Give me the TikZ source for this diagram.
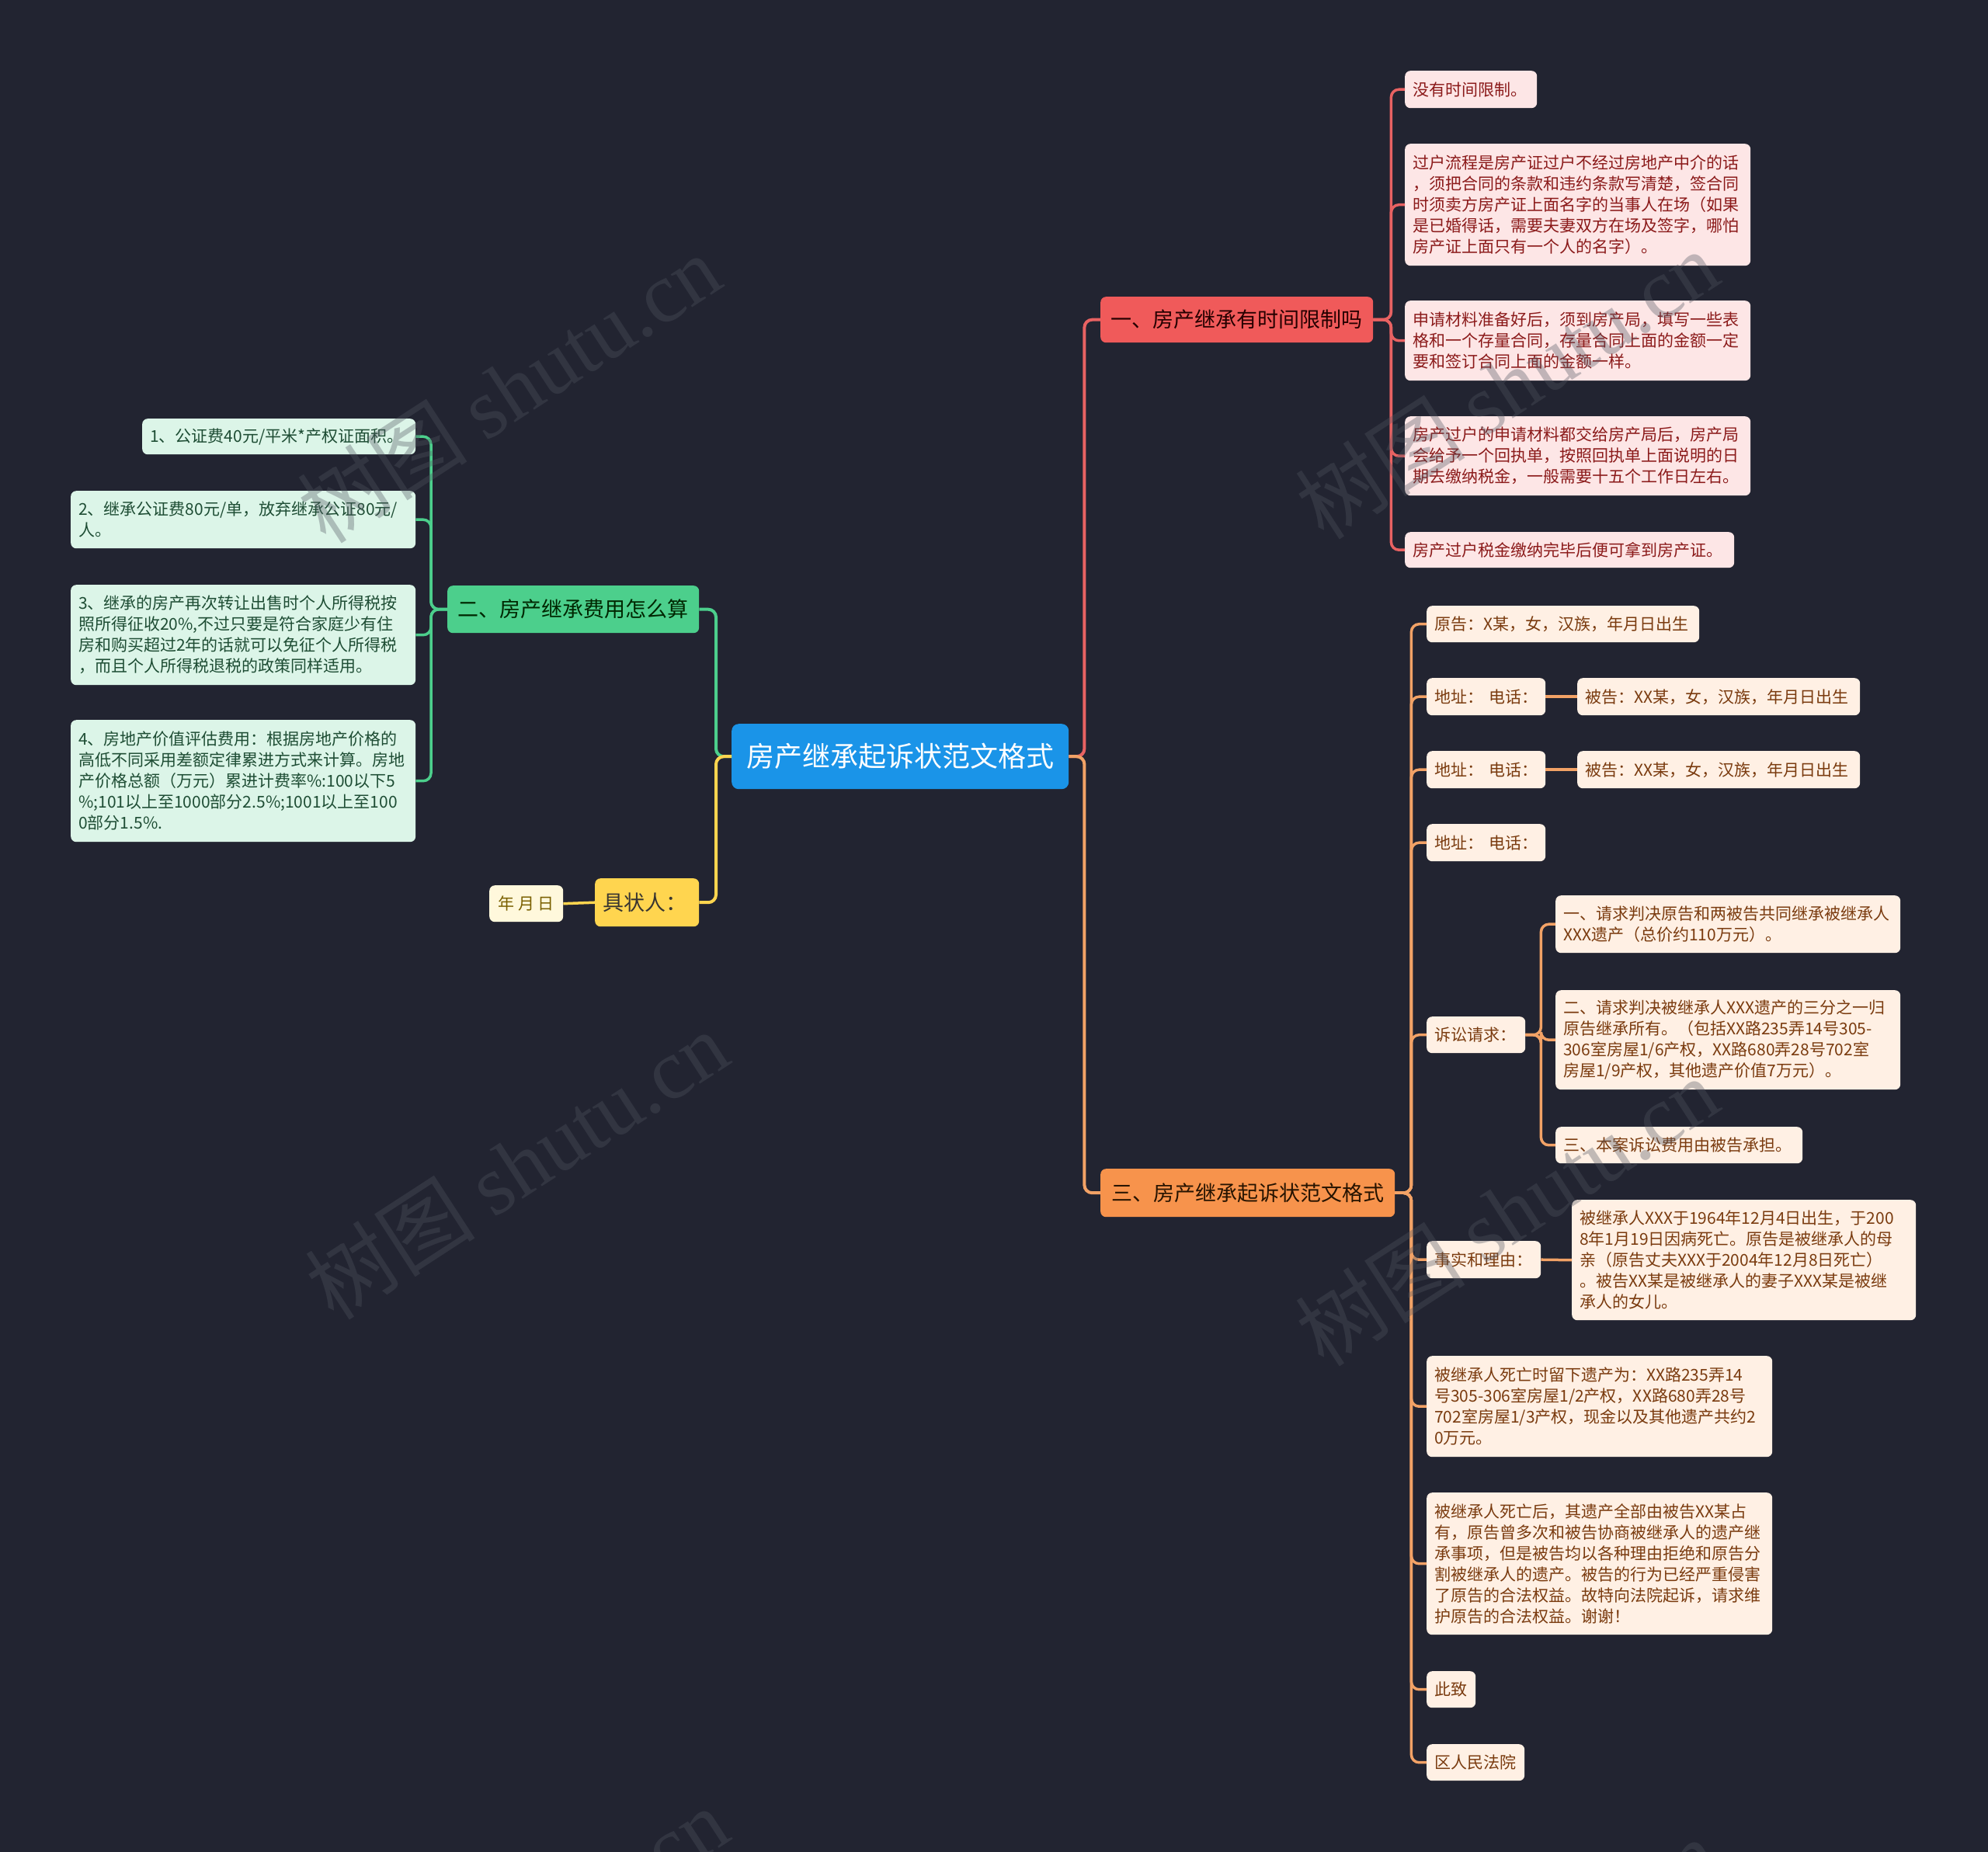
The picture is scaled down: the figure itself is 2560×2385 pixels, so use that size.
\documentclass[tikz,border=0pt]{standalone}
\usepackage{fontspec}
\setmainfont{Noto Sans CJK SC}
\newfontfamily\wmlatin{Liberation Serif}
\definecolor{bg}{HTML}{222431}
\definecolor{rootc}{HTML}{1A94E8}
\definecolor{redc}{HTML}{F05A5A}
\definecolor{redl}{HTML}{E86262}
\definecolor{redfill}{HTML}{FDE6E6}
\definecolor{redtext}{HTML}{8B1A1A}
\definecolor{grnc}{HTML}{4CCF8C}
\definecolor{grnfill}{HTML}{DCF5E8}
\definecolor{grntext}{HTML}{1E4D34}
\definecolor{orc}{HTML}{F7934C}
\definecolor{orl}{HTML}{F2A266}
\definecolor{orfill}{HTML}{FFF0E4}
\definecolor{ortext}{HTML}{7A3B0F}
\definecolor{yelc}{HTML}{FFD54F}
\definecolor{yelfill}{HTML}{FFF8DC}
\definecolor{yeltext}{HTML}{7A6000}
\definecolor{wmc}{HTML}{505560}
\begin{document}
\begin{tikzpicture}[x=1pt,y=-1pt,
  boxbase/.style={anchor=north west, rounded corners=7, inner xsep=10, inner ysep=0},
  leafbox/.style={boxbase, align=left, font=\fontsize{21}{27}\selectfont},
  rootbox/.style={boxbase, align=center, fill=rootc, text=white, rounded corners=9, font=\fontsize{36}{44}\selectfont},
  branchbox/.style={boxbase, align=center, font=\fontsize{27}{33}\selectfont},
  lfR/.style={leafbox, fill=redfill, text=redtext},
  lfG/.style={leafbox, fill=grnfill, text=grntext},
  lfO/.style={leafbox, fill=orfill, text=ortext},
  lfY/.style={boxbase, inner xsep=0, font=\fontsize{21}{27}\selectfont, fill=yelfill, text=yeltext},
  conR/.style={draw=redl, line width=3.5, rounded corners=10},
  conG/.style={draw=grnc, line width=3.5, rounded corners=10},
  conO/.style={draw=orl, line width=3.5, rounded corners=10},
  conY/.style={draw=yelc, line width=3.5, rounded corners=10},
  wm/.style={text=wmc, text opacity=0.35, rotate=33, font=\fontsize{110}{120}\selectfont}
]
\fill[bg] (0,0) rectangle (2560,2385);
\useasboundingbox (0,0) rectangle (2560,2385);

% root and main branches
\node[rootbox, text width=414, minimum height=84] (root) at (942,932) {房产继承起诉状范文格式};
\node[branchbox, fill=redc, text=black!85!red, text width=331, minimum height=59] (b1) at (1417,382) {一、房产继承有时间限制吗};
\node[branchbox, fill=grnc, text=black!85!green, text width=304, minimum height=61] (b2) at (576,754) {二、房产继承费用怎么算};
\node[branchbox, fill=orc, text=black!85!orange, text width=359, minimum height=62] (b3) at (1417,1505) {三、房产继承起诉状范文格式};
\node[branchbox, fill=yelc, text=black!90!yellow, align=left, text width=114, minimum height=62] (b4) at (766,1131) {具状人：};
\node[lfY, minimum width=95, minimum height=47] (y1) at (630,1140) {年 月 日};

% branch 1 leaves
\node[lfR, text width=150, minimum height=48] (r1) at (1809,91) {没有时间限制。};
\node[lfR, text width=425, minimum height=157] (r2) at (1809,185) {过户流程是房产证过户不经过房地产中介的话\\，须把合同的条款和违约条款写清楚，签合同\\时须卖方房产证上面名字的当事人在场（如果\\是已婚得话，需要夫妻双方在场及签字，哪怕\\房产证上面只有一个人的名字）。};
\node[lfR, text width=425, minimum height=103] (r3) at (1809,387) {申请材料准备好后，须到房产局，填写一些表\\格和一个存量合同，存量合同上面的金额一定\\要和签订合同上面的金额一样。};
\node[lfR, text width=425, minimum height=102] (r4) at (1809,536) {房产过户的申请材料都交给房产局后，房产局\\会给予一个回执单，按照回执单上面说明的日\\期去缴纳税金，一般需要十五个工作日左右。};
\node[lfR, text width=404, minimum height=46] (r5) at (1809,685) {房产过户税金缴纳完毕后便可拿到房产证。};

% branch 2 leaves
\node[lfG, text width=332, minimum height=46] (g1) at (183,539) {1、公证费40元/平米*产权证面积。};
\node[lfG, text width=424, minimum height=74] (g2) at (91,632) {2、继承公证费80元/单，放弃继承公证80元/\\人。};
\node[lfG, text width=424, minimum height=129] (g3) at (91,753) {3、继承的房产再次转让出售时个人所得税按\\照所得征收20\%,不过只要是符合家庭少有住\\房和购买超过2年的话就可以免征个人所得税\\，而且个人所得税退税的政策同样适用。};
\node[lfG, text width=424, minimum height=157] (g4) at (91,927) {4、房地产价值评估费用：根据房地产价格的\\高低不同采用差额定律累进方式来计算。房地\\产价格总额（万元）累进计费率\%:100以下5\\\%;101以上至1000部分2.5\%;1001以上至100\\0部分1.5\%.};

% branch 3 leaves
\node[lfO, text width=331, minimum height=47] (o1) at (1837,780) {原告：X某，女，汉族，年月日出生};
\node[lfO, text width=133, minimum height=48] (o2) at (1837,873) {地址： 电话：};
\node[lfO, text width=344, minimum height=48] (o2b) at (2031,873) {被告：XX某，女，汉族，年月日出生};
\node[lfO, text width=133, minimum height=48] (o3) at (1837,967) {地址： 电话：};
\node[lfO, text width=344, minimum height=48] (o3b) at (2031,967) {被告：XX某，女，汉族，年月日出生};
\node[lfO, text width=133, minimum height=48] (o4) at (1837,1061) {地址： 电话：};
\node[lfO, text width=107, minimum height=47] (o5) at (1837,1309) {诉讼请求：};
\node[lfO, text width=424, minimum height=74] (o5a) at (2003,1153) {一、请求判决原告和两被告共同继承被继承人\\XXX遗产（总价约110万元）。};
\node[lfO, text width=424, minimum height=128] (o5b) at (2003,1275) {二、请求判决被继承人XXX遗产的三分之一归\\原告继承所有。（包括XX路235弄14号305-\\306室房屋1/6产权，XX路680弄28号702室\\房屋1/9产权，其他遗产价值7万元）。};
\node[lfO, text width=298, minimum height=47] (o5c) at (2003,1451) {三、本案诉讼费用由被告承担。};
\node[lfO, text width=127, minimum height=48] (o6) at (1837,1598) {事实和理由：};
\node[lfO, text width=423, minimum height=155] (o6a) at (2024,1545) {被继承人XXX于1964年12月4日出生，于200\\8年1月19日因病死亡。原告是被继承人的母\\亲（原告丈夫XXX于2004年12月8日死亡）\\。被告XX某是被继承人的妻子XXX某是被继\\承人的女儿。};
\node[lfO, text width=425, minimum height=130] (o7) at (1837,1746) {被继承人死亡时留下遗产为：XX路235弄14\\号305-306室房屋1/2产权，XX路680弄28号\\702室房屋1/3产权，现金以及其他遗产共约2\\0万元。};
\node[lfO, text width=425, minimum height=183] (o8) at (1837,1922) {被继承人死亡后，其遗产全部由被告XX某占\\有，原告曾多次和被告协商被继承人的遗产继\\承事项，但是被告均以各种理由拒绝和原告分\\割被继承人的遗产。被告的行为已经严重侵害\\了原告的合法权益。故特向法院起诉，请求维\\护原告的合法权益。谢谢！};
\node[lfO, text width=43, minimum height=47] (o9) at (1837,2152) {此致};
\node[lfO, text width=106, minimum height=47] (o10) at (1837,2246) {区人民法院};

% connectors root -> branches
\draw[conR, line width=4] (root.east) -- ++(20,0) |- (b1.west);
\draw[conO, line width=4] (root.east) -- ++(20,0) |- (b3.west);
\draw[conG, line width=4] (root.west) -- ++(-20,0) |- (b2.east);
\draw[conY, line width=4] (root.west) -- ++(-20,0) |- (b4.east);
\draw[conY] (b4.west) -- (y1.east);

% branch 1
\foreach \n in {r1,r2,r3,r4,r5} \draw[conR] (b1.east) -- ++(23,0) |- (\n.west);
% branch 2
\foreach \n in {g1,g2,g3,g4} \draw[conG] (b2.west) -- ++(-21,0) |- (\n.east);
% branch 3
\foreach \n in {o1,o2,o3,o4,o5,o6,o7,o8,o9,o10} \draw[conO] (b3.east) -- ++(21,0) |- (\n.west);
\draw[conO] (o2.east) -- (o2b.west);
\draw[conO] (o3.east) -- (o3b.west);
\foreach \n in {o5a,o5b,o5c} \draw[conO] (o5.east) -- ++(20,0) |- (\n.west);
\draw[conO] (o6.east) -- (o6a.west);

% watermarks
\node[wm] (w1) at (655,500) {树图 {\wmlatin shutu.cn}};
\node[wm] (w2) at (665,1500) {树图 {\wmlatin shutu.cn}};
\node[wm] (w3) at (1940,495) {树图 {\wmlatin shutu.cn}};
\node[wm] (w4) at (1940,1560) {树图 {\wmlatin shutu.cn}};
\node[wm] (w5) at (665,2500) {树图 {\wmlatin shutu.cn}};
\node[wm] (w6) at (1940,2540) {树图 {\wmlatin shutu.cn}};
\end{tikzpicture}
\end{document}
